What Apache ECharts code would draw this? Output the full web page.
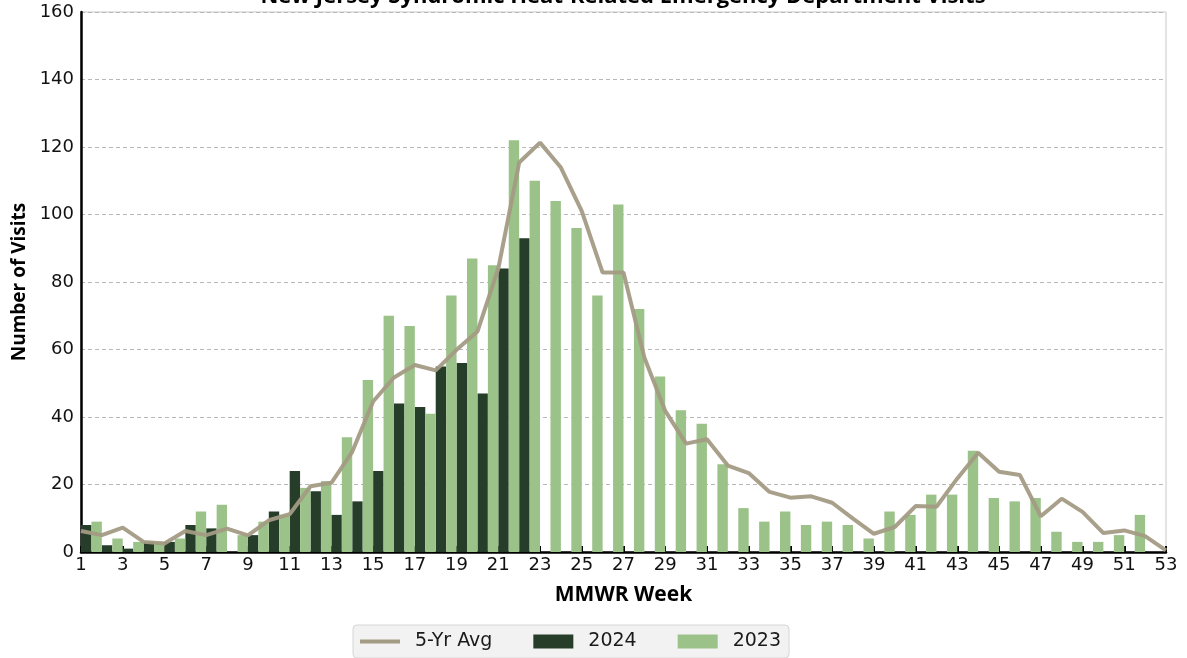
<!DOCTYPE html>
<html><head><meta charset="utf-8">
<script src="https://cdn.jsdelivr.net/npm/echarts@6/dist/echarts.min.js"></script>
<style>html,body{margin:0;padding:0;background:#fff}#c{width:1187px;height:658px}</style>
</head><body><div id="c"></div>
<script>
const titleText = 'New Jersey Syndromic Heat-Related Emergency Department Visits';
const weeks = [1,2,3,4,5,6,7,8,9,10,11,12,13,14,15,16,17,18,19,20,21,22,23,24,25,26,27,28,29,30,31,32,33,34,35,36,37,38,39,40,41,42,43,44,45,46,47,48,49,50,51,52,53];
const avg5yr = [6.2,5,7.2,3,2.5,6.2,5,6.9,4.9,9.4,11.2,19.5,20.5,29.7,44.6,51.7,55.4,53.8,59.9,65.3,84,115.4,121.3,113.9,101,82.8,82.8,57.6,41.8,32.1,33.4,25.6,23.4,17.8,16.1,16.5,14.6,9.9,5.4,7.4,13.6,13.4,21.8,29.4,23.8,22.8,10.6,15.8,11.9,5.6,6.4,4.7,0.5];
const visits2024 = [8,2,1,3,3,8,7,0,5,12,24,18,11,15,24,44,43,55,56,47,84,93];
const visits2023 = [9,4,3,3,4,12,14,5,9,11,19,21,34,51,70,67,41,76,87,85,122,110,104,96,76,103,72,52,42,38,26,13,9,12,8,9,8,4,12,11,17,17,30,16,15,16,6,3,3,5,11,0];

const chart = echarts.init(document.getElementById('c'));
const tickFont = 'DejaVu Sans';
const titleFont = 'Open Sans';
chart.setOption({
  animation: false,
  backgroundColor: '#ffffff',
  title: {
    text: titleText, left: 623, textAlign: 'center', top: -14, padding: 0,
    textStyle: { fontFamily: titleFont, fontWeight: 'bold', fontSize: 22, color: '#000' }
  },
  grid: { left: 81, right: 21, top: 12, bottom: 106, show: true, borderColor: '#c8c8c8', borderWidth: 1 },
  legend: {
    left: 353, top: 625,
    data: [
      { name: '5-Yr Avg', icon: 'path://M0,0L40,0L40,4L0,4Z' },
      { name: '2024', icon: 'rect' },
      { name: '2023', icon: 'rect' }
    ],
    symbolKeepAspect: true,
    backgroundColor: '#f2f2f2', borderColor: '#d6d6d6', borderWidth: 1, borderRadius: 4,
    padding: [7, 8, 7, 7],
    itemWidth: 40, itemHeight: 14, itemGap: 41,
    textStyle: { fontFamily: tickFont, fontSize: 19, color: '#1a1a1a', padding: [0, 0, 0, 10] }
  },
  xAxis: {
    type: 'value', min: 1, max: 53, interval: 2,
    name: 'MMWR Week', nameLocation: 'middle', nameGap: 33,
    nameTextStyle: { fontFamily: titleFont, fontWeight: 'bold', fontSize: 21, color: '#000' },
    axisLine: { show: true, lineStyle: { color: '#000', width: 2.5 } },
    axisTick: { show: true, inside: true, length: 6, lineStyle: { color: '#000', width: 2 } },
    axisLabel: { fontFamily: tickFont, fontSize: 18, color: '#111', margin: 4 },
    splitLine: { show: false }
  },
  yAxis: {
    type: 'value', min: 0, max: 160, interval: 20,
    name: 'Number of Visits', nameLocation: 'middle', nameGap: 52, nameRotate: 90,
    nameTextStyle: { fontFamily: titleFont, fontWeight: 'bold', fontSize: 19, color: '#000' },
    axisLine: { show: true, lineStyle: { color: '#000', width: 2.5 } },
    axisTick: { show: false },
    axisLabel: { fontFamily: tickFont, fontSize: 18, color: '#111', margin: 7 },
    splitLine: { show: true, lineStyle: { color: '#b8b8b8', width: 1, type: [4, 3] } }
  },
  series: [
    {
      name: '2024', type: 'bar', barWidth: 10.4, barGap: '-100%', z: 2,
      itemStyle: { color: '#253d29' },
      data: visits2024.map((v, i) => [weeks[i] + 0.25, v])
    },
    {
      name: '2023', type: 'bar', barWidth: 10.4, barGap: '-100%', z: 2,
      itemStyle: { color: '#9bc289' },
      data: visits2023.map((v, i) => [weeks[i] + 0.75, v])
    },
    {
      name: '5-Yr Avg', type: 'line', z: 5, showSymbol: false, symbol: 'none',
      lineStyle: { color: '#a39b84', width: 4, opacity: 0.95 },
      itemStyle: { color: '#a39b84' },
      data: avg5yr.map((v, i) => [weeks[i], v])
    }
  ]
});
</script>
</body></html>
